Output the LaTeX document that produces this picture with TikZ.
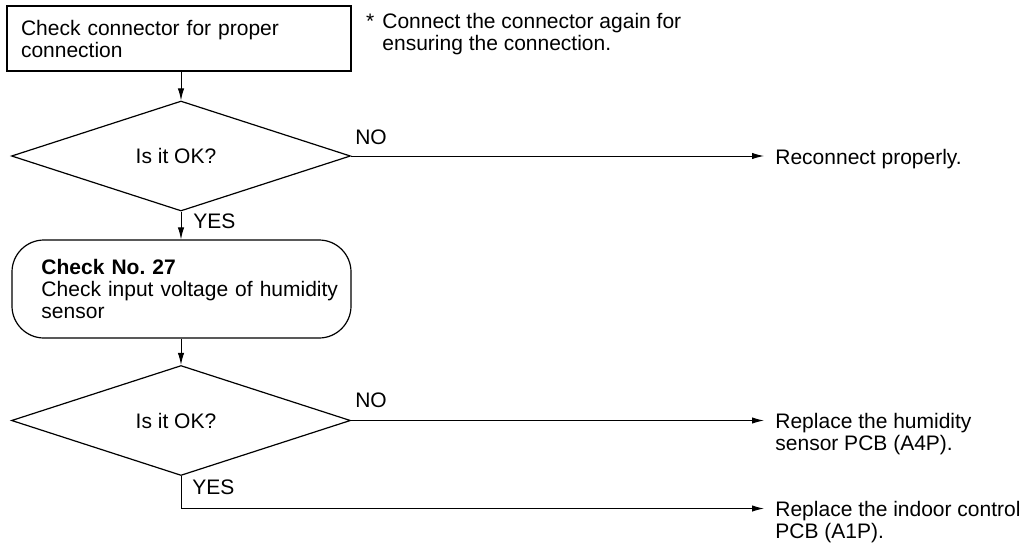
\documentclass[tikz,border=0pt]{standalone}
\usepackage{fontspec}
\setmainfont{Liberation Sans}
\usetikzlibrary{shapes.geometric,arrows.meta,calc}
\begin{document}
\begin{tikzpicture}[x=0.5pt,y=-0.5pt,
  font=\fontsize{10.5}{11}\selectfont\frenchspacing,
  box/.style={draw,line width=0.6pt,minimum width=172pt,minimum height=32.5pt,inner xsep=7pt,text width=158pt,align=left},
  rbox/.style={draw,line width=0.6pt,rounded corners=16pt,minimum width=169.5pt,minimum height=49pt,inner xsep=6.25pt,text width=157pt,align=left},
  dec/.style={draw,diamond,line width=0.6pt,minimum width=169.5pt,minimum height=55pt,inner sep=0pt},
  res/.style={anchor=north west,inner xsep=5.5pt,inner ysep=0pt,align=left},
  lbl/.style={inner sep=0pt},
  arr/.style={line width=0.5pt,-{Latex[length=6pt,width=3.2pt]}},
  ln/.style={line width=0.5pt}]
\useasboundingbox (0,0) rectangle (1034,542);

\node[box] (b1) at (179,38.5) {Check connector for proper\\connection};
\node[anchor=north west,inner sep=0pt,align=left] (note) at (382,13)
  {\llap{*\hspace{4pt}}Connect the connector again for\\ensuring the connection.};

\node[dec] (d1) at (181,156) {Is it OK?\hspace*{5pt}};
\node[rbox] (rb) at (181.5,289) {\leftskip=8.5pt\textbf{Check No. 27}\\Check input voltage of humidity\\sensor\par};
\node[dec] (d2) at (181,420.5) {Is it OK?\hspace*{5pt}};

\node[res] (r1) at (764,149) {Reconnect properly.};
\node[res] (r2) at (764,413) {Replace the humidity\\sensor PCB (A4P).};
\node[res] (r3) at (764,501) {Replace the indoor control\\PCB (A1P).};

\node[lbl] (no1) at (371,137) {NO};
\node[lbl,anchor=west] (yes1) at (193,221) {YES};
\node[lbl] (no2) at (371,400) {NO};
\node[lbl,anchor=west] (yes2) at (192,487) {YES};

\draw[arr] (d1.north |- b1.south) -- (d1.north);
\draw[arr] (d1.east) -- (d1.east -| r1.west);
\draw[arr] (d1.south) -- (d1.south |- rb.north);
\draw[arr] (d2.north |- rb.south) -- (d2.north);
\draw[arr] (d2.east) -- (d2.east -| r2.west);
\draw[arr] (d2.south) |- ([yshift=-3.76pt]r3.north west);
\end{tikzpicture}
\end{document}
